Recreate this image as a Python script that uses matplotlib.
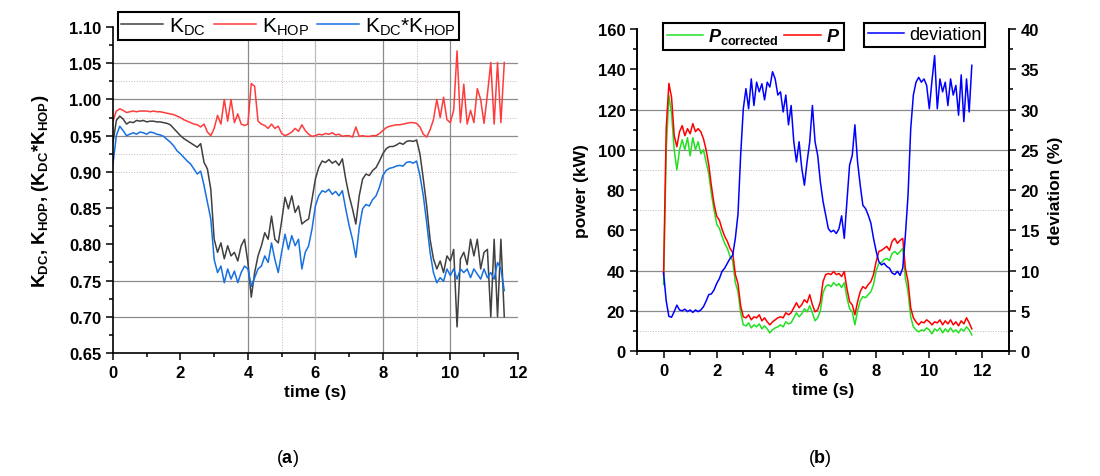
import numpy as np
import matplotlib
matplotlib.use('Agg')
import matplotlib.pyplot as plt
from matplotlib.ticker import MultipleLocator

plt.rcParams['font.family'] = ['Liberation Sans', 'DejaVu Sans']
plt.rcParams['mathtext.fontset'] = 'custom'
plt.rcParams['mathtext.rm'] = 'Liberation Sans'
plt.rcParams['mathtext.it'] = 'Liberation Sans:italic'
plt.rcParams['mathtext.bf'] = 'Liberation Sans:bold'
plt.rcParams['mathtext.default'] = 'regular'

# sampling grid (s), values every 0.1 s
time = np.round(np.arange(0, 11.65, 0.1), 1)

k_dc = [
    0.940, 0.971, 0.977, 0.973, 0.966, 0.969, 0.968, 0.971, 0.970, 0.971,
    0.969, 0.970, 0.970, 0.969, 0.969, 0.968, 0.967, 0.965, 0.960, 0.955,
    0.950, 0.946, 0.943, 0.940, 0.937, 0.934, 0.939, 0.913, 0.904, 0.876,
    0.807, 0.789, 0.802, 0.780, 0.798, 0.784, 0.789, 0.777, 0.798, 0.807,
    0.775, 0.727, 0.761, 0.784, 0.798, 0.816, 0.807, 0.839, 0.807, 0.802,
    0.832, 0.865, 0.849, 0.867, 0.844, 0.853, 0.828, 0.832, 0.835, 0.862,
    0.890, 0.906, 0.915, 0.913, 0.917, 0.912, 0.915, 0.909, 0.918, 0.890,
    0.867, 0.849, 0.828, 0.867, 0.890, 0.897, 0.895, 0.902, 0.906, 0.915,
    0.925, 0.932, 0.935, 0.935, 0.937, 0.940, 0.938, 0.942, 0.943, 0.942,
    0.944, 0.925, 0.890, 0.853, 0.807, 0.780, 0.766, 0.777, 0.761, 0.784,
    0.777, 0.793, 0.686, 0.780, 0.789, 0.772, 0.807, 0.784, 0.807, 0.766,
    0.789, 0.793, 0.700, 0.807, 0.700, 0.807, 0.700,
]

k_hop = [
    0.970, 0.984, 0.987, 0.985, 0.982, 0.983, 0.984, 0.983, 0.984, 0.984,
    0.984, 0.983, 0.984, 0.983, 0.983, 0.982, 0.981, 0.980, 0.979, 0.977,
    0.975, 0.972, 0.970, 0.968, 0.966, 0.965, 0.962, 0.966, 0.955, 0.950,
    0.960, 0.978, 0.966, 1.000, 0.970, 1.000, 0.968, 0.980, 0.966, 0.964,
    0.966, 1.022, 1.018, 0.970, 0.966, 0.964, 0.960, 0.966, 0.960, 0.963,
    0.953, 0.950, 0.952, 0.955, 0.960, 0.956, 0.965, 0.957, 0.952, 0.949,
    0.950, 0.952, 0.951, 0.953, 0.952, 0.954, 0.951, 0.952, 0.949, 0.950,
    0.950, 0.948, 0.962, 0.949, 0.950, 0.949, 0.949, 0.950, 0.950, 0.953,
    0.957, 0.961, 0.963, 0.964, 0.965, 0.965, 0.966, 0.967, 0.968, 0.968,
    0.967, 0.962, 0.952, 0.948, 0.958, 0.972, 1.000, 0.975, 1.003, 0.972,
    0.968, 0.985, 1.067, 0.968, 1.021, 0.966, 0.985, 0.968, 1.015, 1.000,
    0.967, 1.007, 1.051, 0.966, 1.051, 0.968, 1.051,
]

k_prod = [
    0.911, 0.950, 0.963, 0.957, 0.950, 0.952, 0.954, 0.952, 0.955, 0.954,
    0.952, 0.955, 0.954, 0.952, 0.951, 0.949, 0.945, 0.941, 0.936, 0.929,
    0.925, 0.920, 0.915, 0.911, 0.904, 0.897, 0.901, 0.881, 0.858, 0.835,
    0.779, 0.761, 0.770, 0.747, 0.766, 0.752, 0.763, 0.747, 0.761, 0.770,
    0.766, 0.742, 0.754, 0.766, 0.770, 0.784, 0.775, 0.802, 0.779, 0.761,
    0.789, 0.814, 0.793, 0.812, 0.798, 0.807, 0.766, 0.789, 0.798, 0.821,
    0.853, 0.867, 0.874, 0.872, 0.876, 0.869, 0.873, 0.867, 0.874, 0.849,
    0.826, 0.807, 0.782, 0.823, 0.849, 0.855, 0.853, 0.862, 0.867, 0.879,
    0.895, 0.902, 0.905, 0.906, 0.908, 0.909, 0.908, 0.913, 0.914, 0.912,
    0.915, 0.895, 0.867, 0.830, 0.789, 0.761, 0.747, 0.754, 0.749, 0.766,
    0.757, 0.766, 0.752, 0.766, 0.761, 0.766, 0.754, 0.766, 0.759, 0.752,
    0.766, 0.754, 0.761, 0.752, 0.775, 0.766, 0.736,
]

power = [
    38, 111, 133, 126, 107, 101.5, 109, 112, 107, 110.5,
    108, 113, 109, 110.5, 109, 105.5, 100, 92.5, 82, 73,
    67, 65, 60.5, 57, 54.5, 51, 49, 38, 33.5, 22.5,
    17, 16.5, 18, 15.5, 17, 16.5, 18, 15, 16.5, 14.5,
    13, 14.5, 15.5, 16.5, 17, 16.5, 19, 18, 19, 21.5,
    24, 21.5, 23, 25.5, 24, 28, 23, 19.5, 20.5, 24.5,
    34.5, 38, 38.5, 38, 39.5, 38, 38.5, 37, 39.5, 31,
    24.5, 23, 18, 24.5, 29.5, 32, 31, 33, 34.5, 38,
    44.5, 49.5, 50, 51, 52, 50, 54.5, 56, 53.5, 55,
    56, 41, 34.5, 21.5, 16.5, 14.5, 13, 14.5, 14, 15.5,
    14.5, 13, 14.5, 14, 15.5, 13, 15, 13.5, 15.5, 13,
    14.5, 12.5, 15, 13.5, 16.5, 14, 11,
]

power_corr = [
    33, 100, 127, 118, 100, 90, 100, 105, 100, 106,
    97, 106, 100, 104, 98, 100, 94, 88, 78, 70,
    63, 61, 57, 53.5, 51, 47, 45, 34, 29.5, 19,
    13, 12.5, 14, 11.5, 13, 12, 13.5, 11, 12.5, 11,
    9, 10.5, 11.5, 12, 13, 12, 14.5, 13.5, 14, 16.5,
    19, 17, 18.5, 21, 19.5, 22.5, 19, 15, 16.5, 20,
    29, 32, 33, 32, 34, 32.5, 33.5, 31.5, 34, 26.5,
    21, 19.5, 13, 20, 25, 27, 26.5, 28, 29.5, 33,
    40, 43.5, 44, 45.5, 46, 45, 48.5, 49.5, 48, 49.5,
    51, 36, 29.5, 17, 12, 10.5, 9.5, 10.5, 10, 11.5,
    10.5, 8.5, 11, 10, 11.5, 9, 11, 9.5, 11.5, 9.5,
    10.5, 9, 11, 10, 12, 10.5, 8,
]

deviation = [
    9.7, 6.2, 4.3, 4.2, 4.9, 5.7, 5.1, 5.0, 5.2, 4.9,
    5.1, 4.8, 5.1, 4.9, 5.1, 5.5, 6.2, 7.0, 7.1, 7.6,
    8.4, 9.0, 9.9, 10.3, 10.9, 11.5, 11.9, 14.0, 17.0, 24.3,
    30.1, 32.6, 30.1, 33.8, 30.5, 33.4, 32.2, 33.2, 31.2, 33.4,
    32.8, 34.7, 33.8, 31.8, 32.2, 29.7, 31.8, 28.1, 30.5, 26.0,
    23.5, 26.0, 22.7, 20.6, 23.5, 26.0, 30.5, 26.0, 24.3, 21.0,
    18.6, 16.9, 15.2, 14.8, 15.0, 14.6, 15.2, 16.8, 14.0, 18.6,
    23.1, 24.3, 28.1, 23.5, 20.6, 18.1, 17.7, 16.9, 15.9, 14.0,
    12.4, 11.1, 10.7, 10.9, 10.5, 10.3, 9.7, 9.5, 9.9, 9.4,
    10.3, 14.4, 19.4, 27.6, 31.8, 33.4, 34.0, 33.4, 33.8, 33.0,
    30.1, 33.6, 36.7, 30.1, 33.8, 32.2, 33.4, 30.5, 33.8, 31.8,
    33.0, 29.3, 34.3, 28.5, 33.8, 29.7, 35.5,
]

k_ticks = [0.65, 0.70, 0.75, 0.80, 0.85, 0.90, 0.95, 1.00, 1.05, 1.10]
t_ticks = [0, 2, 4, 6, 8, 10, 12]
p_ticks = [0, 20, 40, 60, 80, 100, 120, 140, 160]
d_ticks = [0, 5, 10, 15, 20, 25, 30, 35, 40]

GRID = '#8c8c8c'
DOT = '#c8b4b4'
TICKFONT = dict(fontsize=12, fontweight='bold')
LABELFONT = dict(fontsize=12.5, fontweight='bold')


def style_ticks(ax):
    ax.tick_params(which='major', direction='out', length=5, width=1.1)
    ax.tick_params(which='minor', direction='out', length=3, width=1.1)
    for s in ax.spines.values():
        s.set_linewidth(1.2)


fig = plt.figure(figsize=(11, 4.77), dpi=100)

# ---- (a) ----
ax1 = fig.add_axes([0.1027, 0.2579, 0.368, 0.6834])
for y in [0.70, 0.75, 0.95, 1.00, 1.05]:
    ax1.axhline(y, color=GRID, lw=0.9, zorder=0)
for y in [0.90, 0.925, 0.975, 1.025]:
    ax1.axhline(y, color=DOT, lw=0.7, ls=':', zorder=0)
for x in [4, 8, 10]:
    ax1.axvline(x, color=GRID, lw=0.9, zorder=0)
ax1.axvline(6, color='#bdbdbd', lw=0.9, zorder=0)
for x in [5, 9]:
    ax1.axvline(x, color=DOT, lw=0.7, ls=':', zorder=0)

l1, = ax1.plot(time, k_dc, color='#404040', lw=1.1, label='K$_{DC}$')
l2, = ax1.plot(time, k_hop, color='#ff3b3b', lw=1.1, label='K$_{HOP}$')
l3, = ax1.plot(time, k_prod, color='#1670e0', lw=1.1, label='K$_{DC}$*K$_{HOP}$')

ax1.set_xlim(0, 12)
ax1.set_ylim(0.65, 1.10)
ax1.set_xticks(t_ticks, labels=[str(v) for v in t_ticks], **TICKFONT)
ax1.set_yticks(k_ticks, labels=['%.2f' % v for v in k_ticks], **TICKFONT)
ax1.xaxis.set_minor_locator(MultipleLocator(1))
ax1.yaxis.set_minor_locator(MultipleLocator(0.025))
ax1.spines['top'].set_visible(False)
ax1.spines['right'].set_visible(False)
style_ticks(ax1)
ax1.set_xlabel('time (s)', labelpad=3, **LABELFONT)
ax1.set_ylabel('K$_{DC}$, K$_{HOP}$, (K$_{DC}$*K$_{HOP}$)', labelpad=13, fontsize=13.5,
               fontweight='bold')

leg = ax1.legend(handles=[l1, l2, l3], loc='upper left', bbox_to_anchor=(0.012, 1.045),
                 ncol=3, prop={'weight': 'normal', 'size': 15}, frameon=True,
                 fancybox=False, edgecolor='black', framealpha=1, handlelength=2.0,
                 handletextpad=0.3, columnspacing=0.4, borderpad=0.15, borderaxespad=0)
leg.get_frame().set_linewidth(1.5)

# ---- (b) ----
ax2 = fig.add_axes([0.5791, 0.262, 0.3382, 0.675])
ax3 = ax2.twinx()
for y in [20, 40, 100, 120]:
    ax2.axhline(y, color=GRID, lw=0.9, zorder=0)
for y in [10, 70, 90]:
    ax2.axhline(y, color=DOT, lw=0.7, ls=':', zorder=0)

l4, = ax2.plot(time, power_corr, color='#22e022', lw=1.1)
l5, = ax2.plot(time, power, color='#ff0000', lw=1.1)
l6, = ax3.plot(time, deviation, color='#0000ff', lw=1.1)

ax2.set_xlim(-1, 13)
ax2.set_ylim(0, 160)
ax3.set_ylim(0, 40)
ax2.set_xticks(t_ticks, labels=[str(v) for v in t_ticks], **TICKFONT)
ax2.set_yticks(p_ticks, labels=[str(v) for v in p_ticks], **TICKFONT)
ax3.set_yticks(d_ticks, labels=[str(v) for v in d_ticks], **TICKFONT)
ax2.xaxis.set_minor_locator(MultipleLocator(1))
ax2.yaxis.set_minor_locator(MultipleLocator(10))
ax3.yaxis.set_minor_locator(MultipleLocator(2.5))
for a in (ax2, ax3):
    a.spines['top'].set_visible(False)
    style_ticks(a)
ax2.set_xlabel('time (s)', labelpad=3, **LABELFONT)
ax2.set_ylabel('power (kW)', labelpad=6, **LABELFONT)
ax3.set_ylabel('deviation (%)', labelpad=6, **LABELFONT)

leg1 = ax3.legend([l4, l5], ['$P_{\\mathbf{corrected}}$', '$P$'], loc='upper left',
                  bbox_to_anchor=(0.07, 1.02), ncol=2,
                  prop={'weight': 'bold', 'style': 'italic', 'size': 13},
                  frameon=True, fancybox=False, edgecolor='black', framealpha=1,
                  handlelength=2.0, handletextpad=0.3, columnspacing=0.3,
                  borderpad=0.2, borderaxespad=0)
leg1.get_frame().set_linewidth(1.5)
ax3.add_artist(leg1)
leg2 = ax3.legend([l6], ['deviation'], loc='upper left', bbox_to_anchor=(0.61, 1.02),
                  prop={'weight': 'normal', 'size': 13}, frameon=True, fancybox=False,
                  edgecolor='black', framealpha=1, handlelength=2.0,
                  handletextpad=0.3, borderpad=0.2, borderaxespad=0)
leg2.get_frame().set_linewidth(1.5)

fig.text(0.261, 0.029, '($\\mathbf{a}$)', fontsize=13, ha='center')
fig.text(0.745, 0.029, '($\\mathbf{b}$)', fontsize=13, ha='center')

fig.savefig('out.png', dpi=100)
